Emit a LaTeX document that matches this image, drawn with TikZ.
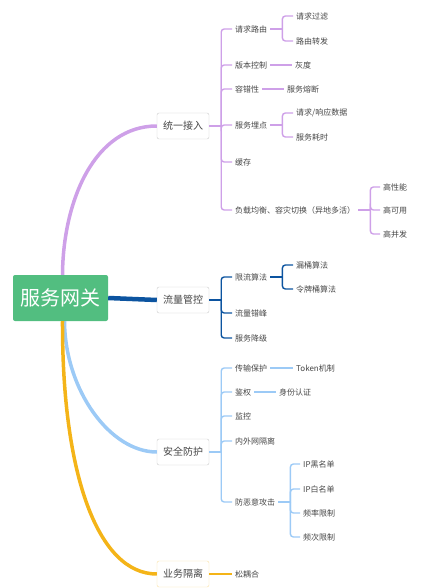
\documentclass[tikz,border=0pt]{standalone}
\usepackage{fontspec}
\setmainfont{Noto Sans CJK SC}
\usepackage{xcolor}
\usepackage{tikz}
\definecolor{rootGreen}{RGB}{82,190,128}
\definecolor{brPurple}{RGB}{206,160,232}
\definecolor{brDark}{RGB}{12,84,160}
\definecolor{brLight}{RGB}{156,202,246}
\definecolor{brYellow}{RGB}{244,180,24}
\definecolor{leafGray}{RGB}{70,70,70}

\begin{document}
\begin{tikzpicture}[x=1pt,y=-1pt,
  rootbox/.style={fill=rootGreen,text=white,rounded corners=2pt,minimum width=95pt,minimum height=46pt,font=\fontsize{20}{22}\selectfont},
  topic/.style={draw=gray!40,fill=white,rounded corners=2pt,minimum width=52pt,minimum height=26pt,text=leafGray,font=\fontsize{10}{12}\selectfont},
  leaf/.style={anchor=west,inner sep=3pt,text=leafGray,font=\fontsize{8}{10}\selectfont},
  br/.style={line width=1.4pt,rounded corners=3pt}]
  \useasboundingbox (0,0) rectangle (421,588);
  \def\brx{12pt}
  % root and main topics
  \node[rootbox] (root) at (60.5,298) {服务网关};
  \node[topic] (ty) at (183,126) {统一接入};
  \node[topic] (ll) at (183,300) {流量管控};
  \node[topic] (aq) at (183,452) {安全防护};
  \node[topic,draw=brYellow!40] (yw) at (183,574) {业务隔离};
  \draw[brPurple,line width=3.5pt] ([xshift=2pt]root.north) .. controls (63,200) and (95,126) .. (ty.west);
  \draw[brDark,line width=4.5pt] (root.east) -- (ll.west);
  \draw[brLight,line width=3.5pt] ([xshift=4pt]root.south) .. controls (65,390) and (110,452) .. (aq.west);
  \draw[brYellow,line width=3.5pt] ([xshift=2pt]root.south) .. controls (62,475) and (98,574) .. (yw.west);
  % 统一接入
  \node[leaf] (qqly) at (232,29) {请求路由};
  \node[leaf] (bbkz) at (232,65) {版本控制};
  \node[leaf] (rcx) at (232,89) {容错性};
  \node[leaf] (fwmd) at (232,125) {服务埋点};
  \node[leaf] (hc) at (232,162) {缓存};
  \node[leaf] (fzjh) at (232,210) {负载均衡、容灾切换（异地多活）};
  \node[leaf] (qqgl) at (293,16) {请求过滤};
  \node[leaf] (lyzf) at (293,41) {路由转发};
  \node[leaf] (hd) at (292,65) {灰度};
  \node[leaf] (fwrd) at (284,89) {服务熔断};
  \node[leaf] (xysj) at (293,113) {请求/响应数据};
  \node[leaf] (fwhs) at (293,137) {服务耗时};
  \node[leaf] (gxn) at (380,187) {高性能};
  \node[leaf] (gky) at (380,210) {高可用};
  \node[leaf] (gbf) at (380,234) {高并发};
  \begin{scope}[brPurple,br]
    \draw (ty.east) -- ++(\brx,0) coordinate (tyj);
    \foreach \c in {qqly,bbkz,rcx,fwmd,hc,fzjh} \draw (tyj) |- (\c.west);
    \draw (qqly.east) -- ++(\brx,0) coordinate (qqlyj);
    \foreach \c in {qqgl,lyzf} \draw (qqlyj) |- (\c.west);
    \draw (bbkz.east) -- (hd.west);
    \draw (rcx.east) -- (fwrd.west);
    \draw (fwmd.east) -- ++(\brx,0) coordinate (fwmdj);
    \foreach \c in {xysj,fwhs} \draw (fwmdj) |- (\c.west);
    \draw (fzjh.east) -- ++(\brx,0) coordinate (fzjhj);
    \foreach \c in {gxn,gky,gbf} \draw (fzjhj) |- (\c.west);
  \end{scope}
  % 流量管控
  \node[leaf] (xlsf) at (232,277) {限流算法};
  \node[leaf] (llcf) at (232,313) {流量错峰};
  \node[leaf] (fwjj) at (232,338) {服务降级};
  \node[leaf] (ltsf) at (293,265) {漏桶算法};
  \node[leaf] (lpsf) at (293,289) {令牌桶算法};
  \begin{scope}[brDark,br]
    \draw (ll.east) -- ++(\brx,0) coordinate (llj);
    \foreach \c in {xlsf,llcf,fwjj} \draw (llj) |- (\c.west);
    \draw (xlsf.east) -- ++(\brx,0) coordinate (xlsfj);
    \foreach \c in {ltsf,lpsf} \draw (xlsfj) |- (\c.west);
  \end{scope}
  % 安全防护
  \node[leaf] (csbh) at (232,368) {传输保护};
  \node[leaf] (jq) at (232,392) {鉴权};
  \node[leaf] (jk) at (232,416) {监控};
  \node[leaf] (nwgl) at (232,441) {内外网隔离};
  \node[leaf] (fegj) at (232,502) {防恶意攻击};
  \node[leaf] (token) at (293,368) {Token机制};
  \node[leaf] (sfrz) at (276,392) {身份认证};
  \node[leaf] (hmd) at (300,464) {IP黑名单};
  \node[leaf] (bmd) at (300,489) {IP白名单};
  \node[leaf] (plxz) at (300,513) {频率限制};
  \node[leaf] (pcxz) at (300,537) {频次限制};
  \begin{scope}[brLight,br]
    \draw (aq.east) -- ++(\brx,0) coordinate (aqj);
    \foreach \c in {csbh,jq,jk,nwgl,fegj} \draw (aqj) |- (\c.west);
    \draw (csbh.east) -- (token.west);
    \draw (jq.east) -- (sfrz.west);
    \draw (fegj.east) -- ++(\brx,0) coordinate (fegjj);
    \foreach \c in {hmd,bmd,plxz,pcxz} \draw (fegjj) |- (\c.west);
  \end{scope}
  % 业务隔离
  \node[leaf] (soh) at (232,574) {松耦合};
  \draw[brYellow,br] (yw.east) -- (soh.west);
\end{tikzpicture}
\end{document}
